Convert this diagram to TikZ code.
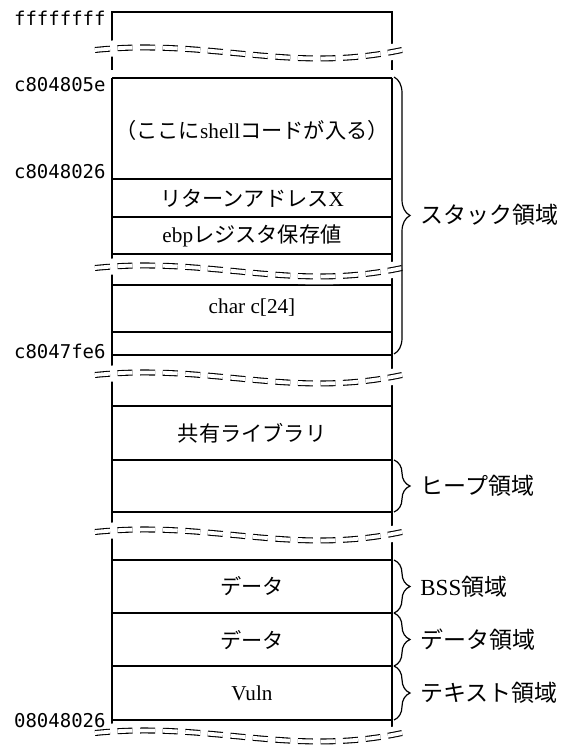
\documentclass[tikz,border=0pt]{standalone}
\usepackage{fontspec}
\setmainfont{Liberation Serif}
\newfontfamily\jpf{Noto Sans CJK JP}
\newfontfamily\monof{DejaVu Sans Mono}
\usetikzlibrary{decorations.pathreplacing}
\newcommand\wavebreak[1]{%
  \path[draw=white, line width=8pt] (95,#1) .. controls (210,#1-12) and (290,#1+24) .. (402,#1);
  \draw[breakline] (95,#1) .. controls (210,#1-12) and (290,#1+24) .. (402,#1);
}
\begin{document}
\begin{tikzpicture}[x=0.5pt, y=-0.5pt,
  boxline/.style={line width=0.6pt},
  breakline/.style={double, double distance=1.9pt, line width=0.55pt, dash pattern=on 7.5pt off 3.8pt},
  addr/.style={font=\monof\fontsize{9.5}{11}\selectfont, anchor=east, inner sep=0pt},
  cell/.style={font=\fontsize{10.6}{12}\selectfont, inner sep=0pt},
  region/.style={font=\fontsize{11.5}{13}\selectfont, anchor=west, inner sep=0pt},
  bracestyle/.style={decorate, decoration={brace, amplitude=8pt}, line width=0.6pt}]
\useasboundingbox (0,0) rectangle (569,748);
% box lines
\draw[boxline] (112,70) -- (112,12) -- (392,12) -- (392,70);
\draw[boxline] (112,78) -- (112,736);
\draw[boxline] (392,78) -- (392,736);
\foreach \yy in {78,179,217,254,285,332,355,406,460,512,560,613,666,720}
  \draw[boxline] (112,\yy) -- (392,\yy);
% breaks
\wavebreak{50}
\wavebreak{268}
\wavebreak{375}
\wavebreak{532}
\wavebreak{733}
% braces
\draw[bracestyle] (394,77) -- (394,354);
\draw[bracestyle] (394,460) -- (394,512);
\draw[bracestyle] (394,560) -- (394,613);
\draw[bracestyle] (394,613) -- (394,666);
\draw[bracestyle] (394,666) -- (394,720);
% region labels
\node[region] (stack) at (420,215) {\jpf スタック領域};
\node[region] (heap) at (420,486) {\jpf ヒープ領域};
\node[region] (bss) at (420,587) {BSS{\jpf 領域}};
\node[region] (data) at (420,640) {\jpf データ領域};
\node[region] (text) at (420,693) {\jpf テキスト領域};
% addresses
\node[addr] (a1) at (106,18) {ffffffff};
\node[addr] (a2) at (106,85) {c804805e};
\node[addr] (a3) at (106,172) {c8048026};
\node[addr] (a4) at (106,351) {c8047fe6};
\node[addr] (a5) at (106,721) {08048026};
% cell texts
\node[cell] (shell) at (252,130) {{\jpf （ここに}shell{\jpf コードが入る）}};
\node[cell] (ret) at (252,198) {{\jpf リターンアドレス}X};
\node[cell] (ebp) at (252,236) {ebp{\jpf レジスタ保存値}};
\node[cell] (charc) at (252,308) {char c[24]};
\node[cell] (lib) at (252,433) {\jpf 共有ライブラリ};
\node[cell] (d1) at (252,586) {\jpf データ};
\node[cell] (d2) at (252,640) {\jpf データ};
\node[cell] (vuln) at (252,693) {Vuln};
\end{tikzpicture}
\end{document}
